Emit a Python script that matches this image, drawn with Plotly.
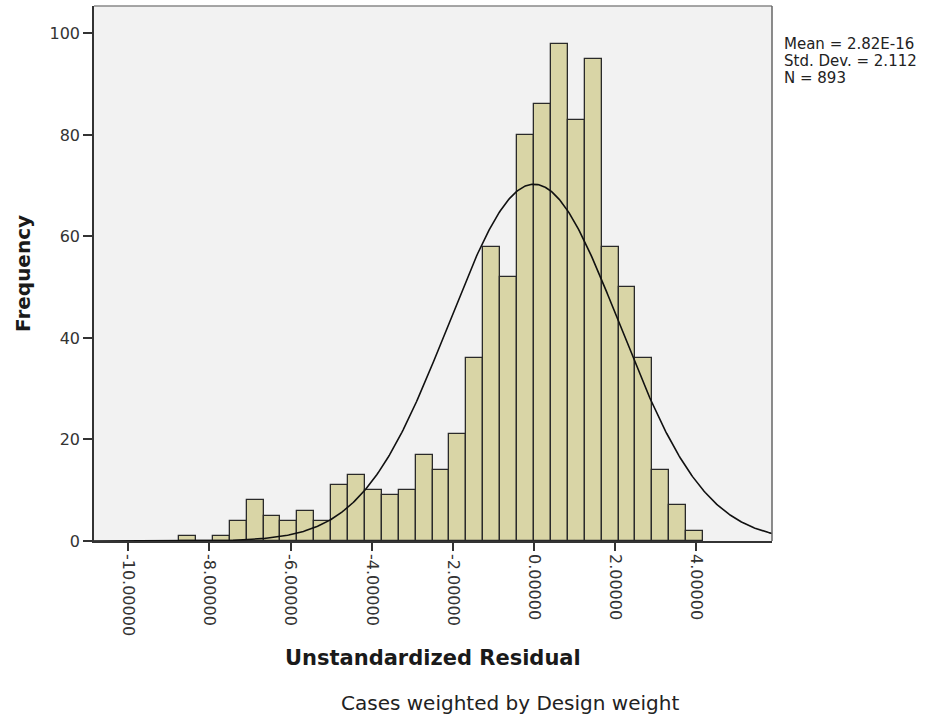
import numpy as np
import plotly.graph_objects as go

# Histogram of unstandardized residuals (weighted cases)
bin_start = -8.75          # lower edge of the first bin
bin_width = 5 / 12         # width of each bin
counts = [1, 0, 1, 4, 8, 5, 4, 6, 4, 11, 13, 10, 9, 10, 17, 14, 21, 36,
          58, 52, 80, 86, 98, 83, 95, 58, 50, 36, 14, 7, 2]

# Summary statistics used for the fitted normal curve
stat_mean = 2.82e-16
stat_sd = 2.112
stat_n = 893
stat_labels = ["Mean = 2.82E-16", "Std. Dev. = 2.112", "N = 893"]

x_tickvals = [-10, -8, -6, -4, -2, 0, 2, 4]
x_ticktext = ["-10.00000", "-8.00000", "-6.00000", "-4.00000",
              "-2.00000", "0.00000", "2.00000", "4.00000"]
y_tickvals = [0, 20, 40, 60, 80, 100]

x_title = "Unstandardized Residual"
y_title = "Frequency"
footnote = "Cases weighted by Design weight"

# ---- layout geometry (pixels) ----
W, H = 942, 720
PL, PR, PT, PB = 94, 772, 6, 541
X_RANGE = [-10.845, 5.866]
Y_RANGE = [0, 105.4]


def px_x(p):
    return (p - PL) / (PR - PL)


def px_y(p):
    return (PB - p) / (PB - PT)


centers = [bin_start + bin_width * (i + 0.5) for i in range(len(counts))]

# Normal density scaled to the histogram counts
xc = np.linspace(X_RANGE[0], X_RANGE[1], 600)
yc = stat_n * bin_width / (stat_sd * np.sqrt(2 * np.pi)) * \
    np.exp(-0.5 * ((xc - stat_mean) / stat_sd) ** 2)

FONT = "DejaVu Sans"

fig = go.Figure()
fig.add_trace(go.Bar(
    x=centers, y=counts, width=bin_width,
    marker=dict(color="#d9d5a6", line=dict(color="#2a2a2a", width=1.3)),
    hoverinfo="x+y", showlegend=False,
))
fig.add_trace(go.Scatter(
    x=xc, y=yc, mode="lines",
    line=dict(color="#111111", width=1.6),
    hoverinfo="skip", showlegend=False,
))

fig.update_layout(
    width=W, height=H,
    margin=dict(l=PL, r=W - PR, t=PT, b=H - PB, pad=0),
    paper_bgcolor="white",
    plot_bgcolor="#f2f2f2",
    bargap=0,
    font=dict(family=FONT, color="#333333", size=16),
)

fig.update_xaxes(
    range=X_RANGE, tickvals=x_tickvals, ticktext=x_ticktext,
    tickangle=90, ticks="outside", ticklen=8, tickwidth=1.5,
    tickcolor="#333333", showline=True, linecolor="#333333", linewidth=1.5,
    showgrid=False, zeroline=False, tickfont=dict(size=16, color="#333333"),
    mirror=False,
)
fig.update_yaxes(
    range=Y_RANGE, tickvals=y_tickvals, ticks="outside", ticklen=9,
    tickwidth=1.5, tickcolor="#333333", showline=True, linecolor="#333333",
    linewidth=1.5, showgrid=False, zeroline=False,
    tickfont=dict(size=16, color="#333333"),
)

# Light frame on the top and right of the plotting area
fig.add_shape(type="line", xref="paper", yref="paper", x0=0, x1=1, y0=1, y1=1,
              line=dict(color="#888888", width=1.5))
fig.add_shape(type="line", xref="paper", yref="paper", x0=1, x1=1, y0=0, y1=1,
              line=dict(color="#666666", width=1.5))

# Axis titles and footnote
fig.add_annotation(text=f"<b>{x_title}</b>", xref="paper", yref="paper",
                   x=px_x(433), y=px_y(658), xanchor="center", yanchor="middle",
                   showarrow=False, font=dict(size=21, color="#1a1a1a", family=FONT))
fig.add_annotation(text=f"<b>{y_title}</b>", xref="paper", yref="paper",
                   x=px_x(23), y=px_y(274), xanchor="center", yanchor="middle",
                   textangle=-90, showarrow=False,
                   font=dict(size=20, color="#1a1a1a", family=FONT))
fig.add_annotation(text=footnote, xref="paper", yref="paper",
                   x=px_x(510), y=px_y(703), xanchor="center", yanchor="middle",
                   showarrow=False, font=dict(size=20, color="#222222", family=FONT))

# Statistics box, one line per annotation
for i, s in enumerate(stat_labels):
    fig.add_annotation(text=s, xref="paper", yref="paper",
                       x=px_x(783), y=px_y(44 + 17 * i),
                       xanchor="left", yanchor="middle", showarrow=False,
                       borderpad=0,
                       font=dict(size=15, color="#222222", family=FONT))

fig.write_html("out.html")
